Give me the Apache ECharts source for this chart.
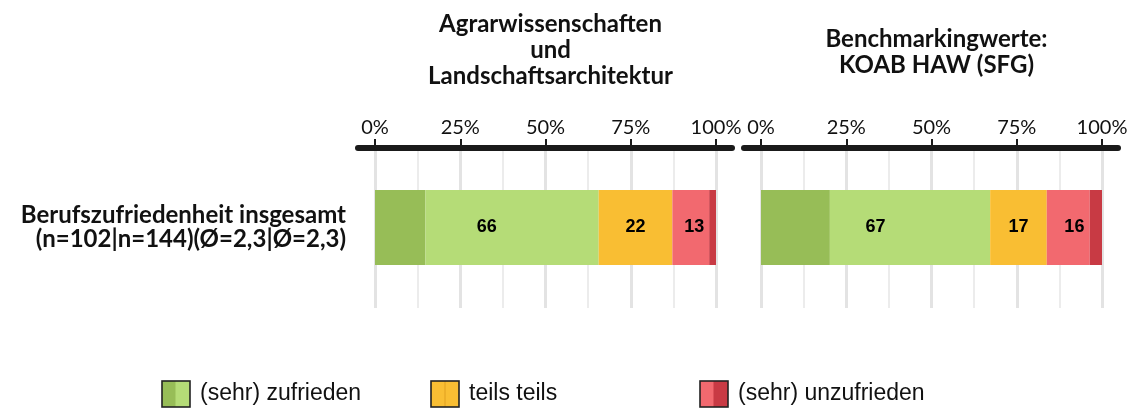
<!DOCTYPE html>
<html>
<head>
<meta charset="utf-8">
<script src="https://cdn.jsdelivr.net/npm/echarts@6/dist/echarts.min.js"></script>
<style>
  html, body { margin: 0; padding: 0; background: #fff; }
  #containerg { width: 1147px; height: 412px; }
</style>
</head>
<body>
<div id="containerg"></div>
<script>
// daten (Anteile in %)
var categories = ['Berufszufriedenheit insgesamt\n(n=102|n=144)(Ø=2,3|Ø=2,3)'];
var panelTitles = ['Agrarwissenschaften\nund\nLandschaftsarchitektur', 'Benchmarkingwerte:\nKOAB HAW (SFG)'];
var sehrZufrieden = [14.8, 20.2];
var zufrieden = [50.8, 47.0];
var teilsTeils = [21.6, 16.6];
var unzufrieden = [10.8, 12.6];
var sehrUnzufrieden = [2.0, 3.6];
var tickLabels = ['0%', '25%', '50%', '75%', '100%'];
var legendNames = ['(sehr) zufrieden', 'teils teils', '(sehr) unzufrieden'];

var cDarkGreen = '#97bd57', cGreen = '#b5dc77', cYellow = '#f9be33', cRed = '#f2696f', cDarkRed = '#c83a44';

function svgIcon(c1, c2) {
    var s = '<svg xmlns="http://www.w3.org/2000/svg" width="30" height="28">' +
        '<rect x="1" y="1" width="14" height="26" fill="' + c1 + '"/>' +
        '<rect x="15" y="1" width="14" height="26" fill="' + c2 + '"/>' +
        '<line x1="15" y1="1" x2="15" y2="27" stroke="' + (c1 == c2 ? '#e0a020' : c2) + '" stroke-width="1"/>' +
        '<rect x="1" y="1" width="28" height="26" fill="none" stroke="#222" stroke-width="1.6"/></svg>';
    return 'image://data:image/svg+xml;charset=utf-8,' + encodeURIComponent(s);
}

var gridLeft = [375, 761];
var plotW = 341;
var plotTop = 147;
var plotH = 161;

armagrafico();

function armagrafico() {
    var dom = document.getElementById('containerg');
    var myChart = echarts.init(dom, null, { renderer: 'canvas' });

    var grids = [], xAxes = [], yAxes = [], series = [], titles = [];

    for (var i = 0; i < 2; i++) {
        // datenbereich
        grids.push({ left: gridLeft[i], width: plotW, top: plotTop, height: plotH });
        // dicke achsenlinie (etwas breiter als der datenbereich)
        grids.push({ left: gridLeft[i] - 17, width: plotW + 33, top: plotTop, height: 1 });

        xAxes.push({
            gridIndex: 2 * i,
            type: 'value',
            position: 'top',
            min: 0,
            max: 100,
            interval: 25,
            axisLine: { show: false },
            axisTick: { show: true, length: 8, lineStyle: { color: '#1a1a1a', width: 2 } },
            axisLabel: {
                margin: 9,
                fontFamily: 'Lato',
                fontSize: 20,
                color: '#111',
                formatter: function (v) { return tickLabels[Math.round(v / 25)]; }
            },
            splitLine: { show: true, lineStyle: { color: '#e3e3e3', width: 3 } },
            minorTick: { show: false, splitNumber: 2 },
            minorSplitLine: { show: true, lineStyle: { color: '#ececec', width: 2 } }
        });
        xAxes.push({
            gridIndex: 2 * i + 1,
            type: 'value',
            position: 'top',
            min: 0,
            max: 1,
            axisLine: { show: true, lineStyle: { color: '#1a1a1a', width: 6, cap: 'round' } },
            axisTick: { show: false },
            axisLabel: { show: false },
            splitLine: { show: false }
        });

        yAxes.push({
            gridIndex: 2 * i,
            type: 'category',
            data: categories,
            axisLine: { show: false },
            axisTick: { show: false },
            axisLabel: i == 0 ? {
                show: true,
                margin: 29,
                align: 'right',
                fontFamily: 'Lato',
                fontWeight: 'bold',
                fontSize: 24,
                lineHeight: 24,
                color: '#111'
            } : { show: false }
        });
        yAxes.push({ gridIndex: 2 * i + 1, type: 'value', show: false, min: 0, max: 1 });

        var segs = [
            { name: legendNames[0], v: sehrZufrieden[i], c: cDarkGreen },
            { name: legendNames[0], v: zufrieden[i], c: cGreen },
            { name: legendNames[1], v: teilsTeils[i], c: cYellow },
            { name: legendNames[2], v: unzufrieden[i], c: cRed },
            { name: legendNames[2], v: sehrUnzufrieden[i], c: cDarkRed }
        ];
        segs.forEach(function (s) {
            series.push({
                name: s.name,
                type: 'bar',
                xAxisIndex: 2 * i,
                yAxisIndex: 2 * i,
                stack: 'werte' + i,
                barWidth: 75,
                barGap: '-100%',
                itemStyle: { color: s.c },
                emphasis: { disabled: true },
                data: [s.v]
            });
        });

        // beschriftung: summe je gruppe, mittig
        var sums = [
            sehrZufrieden[i] + zufrieden[i],
            teilsTeils[i],
            unzufrieden[i] + sehrUnzufrieden[i]
        ];
        sums.forEach(function (v) {
            series.push({
                name: 'label',
                type: 'bar',
                xAxisIndex: 2 * i,
                yAxisIndex: 2 * i,
                stack: 'labels' + i,
                barWidth: 75,
                barGap: '-100%',
                silent: true,
                itemStyle: { color: 'rgba(0,0,0,0)' },
                label: {
                    show: true,
                    position: 'inside',
                    fontFamily: 'Liberation Sans',
                    fontWeight: 'bold',
                    fontSize: 18,
                    color: '#000',
                    formatter: function (p) { return Math.round(p.value); }
                },
                data: [v]
            });
        });

        titles.push({
            text: panelTitles[i],
            left: gridLeft[i] + plotW / 2,
            top: i == 0 ? 6 : 21,
            textAlign: 'center',
            textStyle: {
                fontFamily: 'Lato',
                fontWeight: 'bold',
                fontSize: 24,
                lineHeight: 26,
                color: '#111'
            }
        });
    }

    var icons = [svgIcon(cDarkGreen, cGreen), svgIcon(cYellow, cYellow), svgIcon(cRed, cDarkRed)];
    var legendLeft = [161, 430, 699];
    var legends = legendNames.map(function (n, k) {
        return {
            left: legendLeft[k],
            top: 380,
            padding: 0,
            selectedMode: false,
            itemWidth: 30,
            itemHeight: 28,
            data: [{ name: n, icon: icons[k] }],
            textStyle: {
                fontFamily: 'Liberation Sans',
                fontSize: 23,
                color: '#111',
                padding: [0, 0, 0, 4]
            }
        };
    });

    var option = {
        animation: false,
        title: titles,
        legend: legends,
        grid: grids,
        xAxis: xAxes,
        yAxis: yAxes,
        series: series
    };

    if (option && typeof option === 'object') {
        myChart.setOption(option);
    }
}
</script>
</body>
</html>
